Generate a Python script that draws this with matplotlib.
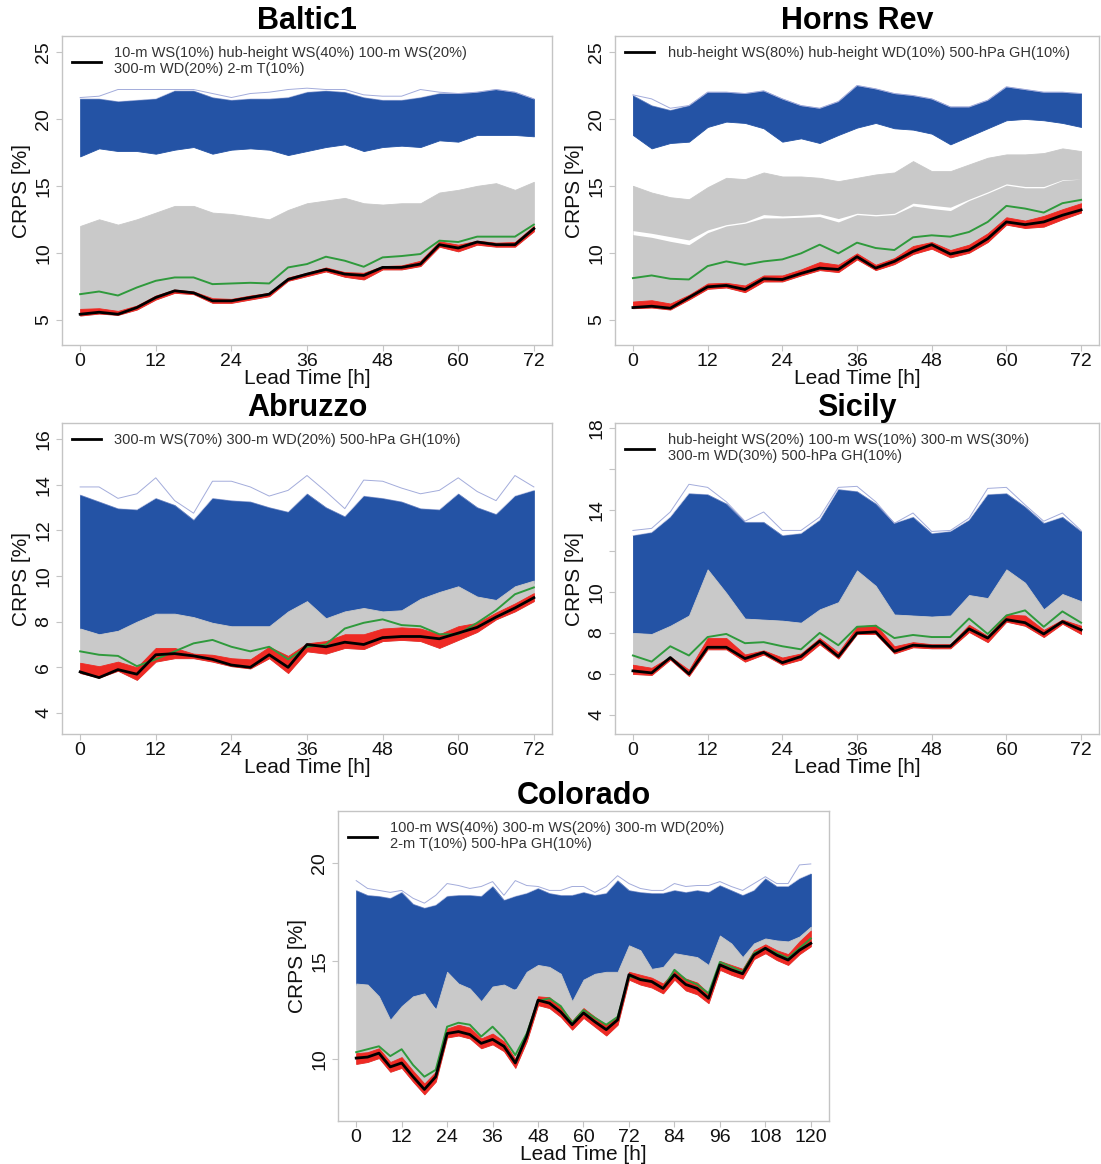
import matplotlib
matplotlib.use('Agg')
import matplotlib.pyplot as plt

plt.rcParams['font.family'] = ['Liberation Sans', 'DejaVu Sans']

hours72 = list(range(0, 73, 3))
hours120 = list(range(0, 121, 3))

# ---- Baltic1 ----
baltic_blue_max = [21.6, 21.7, 22.2, 22.2, 22.2, 22.2, 22.2, 21.9, 21.6, 21.9, 22.0, 22.2, 22.3,
                   22.2, 22.2, 21.8, 21.7, 21.7, 22.2, 22.0, 21.9, 22.0, 22.2, 22.0, 21.5]
baltic_blue_hi = [21.5, 21.5, 21.3, 21.4, 21.5, 22.1, 22.1, 21.6, 21.4, 21.5, 21.5, 21.6, 22.0,
                  22.1, 22.0, 21.6, 21.4, 21.4, 21.6, 21.9, 21.9, 22.0, 22.2, 22.0, 21.5]
baltic_blue_lo = [17.2, 17.8, 17.6, 17.6, 17.4, 17.7, 17.9, 17.4, 17.7, 17.8, 17.7, 17.3, 17.6,
                  17.9, 18.1, 17.6, 17.9, 18.0, 17.9, 18.4, 18.3, 18.8, 18.8, 18.8, 18.7]
baltic_gray_hi = [12.0, 12.5, 12.1, 12.5, 13.0, 13.5, 13.5, 13.0, 12.9, 12.7, 12.5, 13.2, 13.7,
                  13.9, 14.1, 13.7, 13.6, 13.7, 13.7, 14.5, 14.7, 15.0, 15.2, 14.7, 15.3]
baltic_red_hi = [5.8, 5.85, 5.65, 6.05, 6.8, 7.25, 7.1, 6.6, 6.55, 6.8, 7.0, 8.15, 8.5,
                 8.9, 8.55, 8.5, 9.0, 9.05, 9.4, 10.85, 10.6, 10.9, 10.75, 10.8, 12.0]
baltic_red_lo = [5.3, 5.45, 5.35, 5.75, 6.5, 7.0, 6.9, 6.25, 6.25, 6.5, 6.75, 7.9, 8.25,
                 8.6, 8.2, 8.0, 8.75, 8.75, 9.0, 10.45, 10.1, 10.6, 10.45, 10.45, 11.6]
baltic_green = [6.9, 7.1, 6.8, 7.4, 7.9, 8.15, 8.15, 7.65, 7.7, 7.75, 7.7, 8.9, 9.15,
                9.7, 9.4, 8.95, 9.65, 9.75, 9.9, 10.9, 10.8, 11.2, 11.2, 11.2, 12.1]
baltic_black = [5.4, 5.55, 5.4, 5.9, 6.65, 7.15, 7.0, 6.4, 6.4, 6.65, 6.9, 8.0, 8.4,
                8.75, 8.4, 8.3, 8.9, 8.9, 9.15, 10.6, 10.35, 10.8, 10.6, 10.6, 11.8]
baltic_label = "10-m WS(10%) hub-height WS(40%) 100-m WS(20%)\n300-m WD(20%) 2-m T(10%)"

# ---- Horns Rev ----
horns_blue_max = [21.8, 21.5, 20.8, 21.0, 22.0, 22.0, 21.9, 22.1, 21.5, 21.0, 20.8, 21.3, 22.5,
                  22.25, 21.9, 21.75, 21.5, 20.9, 20.9, 21.4, 22.4, 22.2, 22.0, 22.0, 21.9]
horns_blue_hi = [21.75, 21.0, 20.65, 21.0, 22.0, 22.0, 21.9, 22.1, 21.5, 21.0, 20.8, 21.3, 22.5,
                 22.25, 21.9, 21.75, 21.5, 20.9, 20.9, 21.4, 22.4, 22.2, 22.0, 22.0, 21.9]
horns_blue_lo = [18.8, 17.8, 18.2, 18.3, 19.4, 19.8, 19.7, 19.3, 18.3, 18.55, 18.2, 18.8, 19.35,
                 19.7, 19.3, 19.2, 18.9, 18.1, 18.7, 19.3, 19.9, 20.0, 19.9, 19.7, 19.4]
horns_gray_hi = [15.0, 14.5, 14.15, 14.0, 14.9, 15.6, 15.5, 16.0, 15.7, 15.7, 15.6, 15.35, 15.6,
                 15.85, 16.0, 16.85, 16.1, 16.1, 16.6, 17.1, 17.35, 17.35, 17.45, 17.8, 17.6]
horns_gap_hi = [11.65, 11.45, 11.2, 10.95, 11.7, 12.1, 12.3, 12.85, 12.75, 12.8, 12.9, 12.55, 12.95,
                12.85, 12.95, 13.7, 13.55, 13.4, 14.0, 14.55, 15.15, 14.95, 14.95, 15.45, 15.5]
horns_gap_lo = [11.35, 11.15, 10.85, 10.6, 11.5, 12.0, 12.2, 12.6, 12.6, 12.65, 12.7, 12.3, 12.85,
                12.75, 12.85, 13.5, 13.3, 13.15, 13.9, 14.45, 15.05, 14.85, 14.85, 15.4, 15.5]
horns_red_hi = [6.35, 6.45, 6.2, 6.85, 7.7, 7.75, 7.55, 8.3, 8.3, 8.75, 9.3, 9.1, 9.95,
                9.1, 9.6, 10.5, 10.8, 10.2, 10.6, 11.45, 12.65, 12.4, 12.75, 13.25, 13.7]
horns_red_lo = [5.85, 5.9, 5.75, 6.5, 7.3, 7.4, 7.05, 7.85, 7.85, 8.3, 8.7, 8.55, 9.5,
                8.7, 9.15, 9.9, 10.3, 9.65, 10.0, 10.8, 12.1, 11.85, 11.95, 12.5, 13.0]
horns_green = [8.1, 8.3, 8.05, 8.0, 9.0, 9.35, 9.1, 9.35, 9.5, 9.95, 10.6, 9.95, 10.75,
               10.35, 10.2, 11.15, 11.3, 11.2, 11.55, 12.3, 13.5, 13.3, 13.0, 13.7, 13.95]
horns_black = [5.9, 6.0, 5.85, 6.65, 7.45, 7.55, 7.25, 8.05, 8.0, 8.45, 8.85, 8.75, 9.7,
               8.85, 9.35, 10.1, 10.6, 9.9, 10.2, 11.05, 12.3, 12.1, 12.3, 12.8, 13.2]
horns_label = "hub-height WS(80%) hub-height WD(10%) 500-hPa GH(10%)"

# ---- Abruzzo ----
abruzzo_blue_max = [13.9, 13.9, 13.4, 13.6, 14.3, 13.3, 12.75, 14.15, 14.15, 13.9, 13.5, 13.75, 14.4,
                    13.7, 12.95, 14.2, 14.15, 13.85, 13.6, 13.75, 14.3, 13.7, 13.3, 14.4, 13.9]
abruzzo_blue_hi = [13.55, 13.25, 12.95, 12.9, 13.4, 13.1, 12.45, 13.4, 13.3, 13.25, 13.0, 12.8, 13.6,
                   13.0, 12.6, 13.5, 13.4, 13.25, 12.95, 12.9, 13.6, 13.0, 12.7, 13.5, 13.75]
abruzzo_blue_lo = [7.7, 7.45, 7.6, 7.6, 7.8, 7.8, 7.8, 7.8, 7.8, 7.8, 7.8, 8.0, 8.3,
                   8.0, 8.0, 8.0, 8.0, 8.2, 8.5, 8.6, 8.6, 8.6, 8.6, 9.2, 9.7]
abruzzo_gray_hi = [7.7, 7.45, 7.6, 8.0, 8.35, 8.35, 8.2, 7.95, 7.8, 7.8, 7.8, 8.45, 8.9,
                   8.15, 8.45, 8.6, 8.45, 8.5, 9.0, 9.3, 9.55, 9.1, 8.95, 9.55, 9.8]
abruzzo_red_hi = [6.2, 6.05, 6.25, 6.0, 6.85, 6.85, 6.6, 6.55, 6.4, 6.35, 6.9, 6.5, 7.05,
                  7.15, 7.45, 7.45, 7.7, 7.75, 7.7, 7.45, 7.8, 7.95, 8.4, 8.8, 9.25]
abruzzo_red_lo = [5.75, 5.55, 5.85, 5.45, 6.25, 6.4, 6.4, 6.25, 6.05, 5.95, 6.4, 5.75, 6.7,
                  6.6, 6.85, 6.8, 7.15, 7.2, 7.15, 6.85, 7.2, 7.55, 8.1, 8.45, 8.9]
abruzzo_green = [6.7, 6.55, 6.5, 6.05, 6.35, 6.7, 7.05, 7.2, 6.9, 6.7, 6.9, 6.35, 6.9,
                 7.0, 7.7, 7.95, 8.1, 7.85, 7.8, 7.45, 7.45, 7.95, 8.5, 9.2, 9.5]
abruzzo_black = [5.8, 5.55, 5.9, 5.7, 6.55, 6.6, 6.5, 6.35, 6.1, 6.0, 6.55, 6.0, 7.0,
                 6.9, 7.1, 7.0, 7.3, 7.35, 7.35, 7.25, 7.5, 7.75, 8.2, 8.6, 9.05]
abruzzo_label = "300-m WS(70%) 300-m WD(20%) 500-hPa GH(10%)"

# ---- Sicily ----
sicily_blue_max = [13.0, 13.1, 13.9, 15.25, 15.1, 14.4, 13.45, 13.9, 13.0, 13.0, 13.65, 15.1, 15.15,
                   14.4, 13.35, 13.85, 12.95, 13.0, 13.6, 15.05, 15.1, 14.25, 13.45, 13.85, 13.0]
sicily_blue_hi = [12.75, 12.9, 13.65, 14.8, 14.75, 14.3, 13.4, 13.4, 12.75, 12.85, 13.5, 15.0, 14.9,
                  14.3, 13.35, 13.65, 12.85, 12.95, 13.5, 14.75, 14.8, 14.15, 13.35, 13.65, 12.95]
sicily_blue_lo = [8.0, 7.95, 8.25, 8.5, 8.6, 8.65, 8.7, 8.65, 8.6, 8.5, 9.1, 9.4, 9.2,
                  9.0, 8.9, 8.85, 8.8, 8.85, 9.8, 9.7, 9.6, 9.4, 9.15, 9.85, 9.5]
sicily_gray_hi = [8.0, 7.95, 8.35, 8.85, 11.1, 9.95, 8.7, 8.65, 8.6, 8.5, 9.15, 9.5, 11.05,
                  10.3, 8.9, 8.85, 8.8, 8.85, 9.85, 9.7, 11.1, 10.45, 9.15, 9.9, 9.55]
sicily_red_hi = [6.45, 6.3, 6.85, 6.2, 7.75, 7.75, 6.95, 7.15, 6.8, 7.0, 7.75, 7.05, 8.3,
                 8.4, 7.35, 7.55, 7.45, 7.45, 8.4, 7.85, 8.9, 8.85, 8.15, 8.65, 8.35]
sicily_red_lo = [6.0, 5.95, 6.7, 5.9, 7.2, 7.2, 6.6, 6.95, 6.45, 6.7, 7.45, 6.75, 7.95,
                 7.95, 7.0, 7.3, 7.25, 7.25, 8.05, 7.55, 8.55, 8.35, 7.8, 8.45, 7.95]
sicily_green = [6.9, 6.6, 7.35, 6.9, 7.8, 7.95, 7.5, 7.55, 7.35, 7.2, 8.0, 7.4, 8.3,
                8.35, 7.75, 7.9, 7.8, 7.8, 8.7, 7.95, 8.85, 9.1, 8.3, 9.05, 8.5]
sicily_black = [6.15, 6.05, 6.8, 6.0, 7.3, 7.3, 6.75, 7.05, 6.55, 6.85, 7.6, 6.85, 8.0,
                8.05, 7.1, 7.4, 7.35, 7.35, 8.2, 7.75, 8.65, 8.5, 7.95, 8.55, 8.15]
sicily_label = "hub-height WS(20%) 100-m WS(10%) 300-m WS(30%)\n300-m WD(30%) 500-hPa GH(10%)"

# ---- Colorado ----
colorado_blue_max = [19.1, 18.7, 18.6, 18.5, 18.6, 18.2, 17.95, 18.35, 18.95, 18.85, 18.7, 18.8, 19.05, 18.35,
                     19.1, 18.85, 18.8, 18.6, 18.6, 18.8, 18.8, 18.5, 18.8, 19.35, 18.95, 18.7, 18.6, 18.6,
                     18.95, 18.8, 18.85, 18.85, 19.05, 18.8, 18.6, 18.95, 19.3, 18.95, 18.95, 19.9, 19.95]
colorado_blue_hi = [18.6, 18.35, 18.3, 18.2, 18.5, 17.9, 17.7, 17.85, 18.3, 18.35, 18.35, 18.3, 18.8, 18.1,
                    18.3, 18.45, 18.7, 18.45, 18.35, 18.35, 18.5, 18.35, 18.45, 19.1, 18.6, 18.5, 18.45, 18.45,
                    18.6, 18.5, 18.6, 18.5, 18.85, 18.6, 18.35, 18.6, 19.2, 18.8, 18.8, 19.2, 19.45]
colorado_blue_lo = [13.8, 13.5, 12.9, 12.0, 12.4, 12.9, 13.2, 12.6, 13.5, 13.5, 13.3, 12.9, 13.3, 13.5,
                    13.6, 13.9, 14.0, 14.0, 13.5, 12.9, 13.4, 13.8, 14.2, 14.3, 15.0, 15.2, 14.5, 14.5,
                    14.8, 15.0, 15.0, 14.7, 15.8, 15.5, 15.0, 15.2, 15.4, 15.6, 15.7, 16.0, 16.5]
colorado_gray_hi = [13.85, 13.8, 13.2, 12.0, 12.7, 13.2, 13.35, 12.5, 14.45, 13.85, 13.6, 12.95, 13.7, 13.8,
                    13.5, 14.45, 14.8, 14.7, 14.35, 12.95, 14.05, 14.35, 14.45, 14.45, 15.8, 15.55, 14.6, 14.7,
                    15.4, 15.3, 15.2, 14.8, 16.3, 15.9, 15.2, 15.9, 16.15, 16.05, 16.0, 16.25, 16.75]
colorado_red_hi = [10.3, 10.35, 10.55, 9.85, 10.1, 9.4, 8.75, 9.35, 11.55, 11.75, 11.6, 11.05, 11.3, 10.9,
                   10.0, 11.4, 13.2, 13.15, 12.65, 11.95, 12.6, 12.15, 11.75, 12.2, 14.45, 14.3, 14.15, 13.85,
                   14.5, 14.1, 13.9, 13.35, 15.0, 14.8, 14.6, 15.55, 15.85, 15.55, 15.35, 16.0, 16.55]
colorado_red_lo = [9.75, 9.85, 10.05, 9.35, 9.55, 8.85, 8.2, 8.85, 11.1, 11.2, 11.05, 10.55, 10.75, 10.4,
                   9.55, 10.9, 12.75, 12.6, 12.15, 11.5, 12.1, 11.65, 11.2, 11.75, 14.05, 13.8, 13.65, 13.35,
                   14.05, 13.5, 13.3, 12.85, 14.55, 14.3, 14.1, 15.1, 15.4, 15.05, 14.8, 15.35, 15.75]
colorado_green = [10.35, 10.5, 10.65, 10.15, 10.5, 9.7, 9.1, 9.45, 11.65, 11.85, 11.75, 11.15, 11.65, 11.05,
                  10.2, 11.3, 12.95, 13.1, 12.7, 11.85, 12.5, 12.1, 11.75, 12.15, 14.2, 14.1, 13.95, 13.6,
                  14.55, 14.05, 13.8, 13.35, 14.95, 14.7, 14.45, 15.4, 15.65, 15.4, 15.15, 15.65, 16.15]
colorado_black = [10.05, 10.1, 10.3, 9.6, 9.8, 9.1, 8.45, 9.1, 11.3, 11.4, 11.25, 10.8, 11.0, 10.65,
                  9.8, 11.15, 13.0, 12.85, 12.4, 11.75, 12.35, 11.9, 11.5, 12.0, 14.3, 14.05, 13.95, 13.6,
                  14.3, 13.8, 13.6, 13.1, 14.8, 14.55, 14.35, 15.3, 15.65, 15.3, 15.05, 15.55, 15.9]
colorado_label = "100-m WS(40%) 300-m WS(20%) 300-m WD(20%)\n2-m T(10%) 500-hPa GH(10%)"

BLUE = '#2453a5'
BLUE_LINE = '#a3acdb'
GRAY = '#c9c9c9'
RED = '#ee2a24'
GREEN = '#2f9a3c'
FRAME = '#c4c4c4'

W, H = 1101, 1164
fig = plt.figure(figsize=(W / 100, H / 100), dpi=100)


def make_axes(x0, y0, x1, y1):
    return fig.add_axes([x0 / W, 1 - y1 / H, (x1 - x0) / W, (y1 - y0) / H])


def draw_panel(ax, title, hours, blue_max, blue_hi, blue_lo, gray_hi, red_hi, red_lo,
               green, black, label, ylim, yticks, ylabels, xticks, gap=None):
    ax.fill_between(hours, blue_lo, blue_hi, color=BLUE, lw=0.6, ec=BLUE)
    ax.plot(hours, blue_max, color=BLUE_LINE, lw=0.7)
    ax.plot(hours, blue_hi, color=BLUE_LINE, lw=0.5, alpha=0.6)
    ax.fill_between(hours, red_lo, gray_hi, color=GRAY, lw=0.6, ec=GRAY)
    if gap is not None:
        ax.fill_between(hours, gap[0], gap[1], color='white', lw=0)
    ax.fill_between(hours, red_lo, red_hi, color=RED, lw=0.6, ec=RED)
    ax.plot(hours, green, color=GREEN, lw=1.4)
    ax.plot(hours, black, color='black', lw=2.0, label=label)

    n = hours[-1]
    ax.set_xlim(-0.04 * n, 1.04 * n)
    ax.set_ylim(*ylim)
    ax.set_xticks(xticks)
    ax.set_yticks(yticks)
    ax.set_yticklabels(ylabels, rotation=90, va='center')
    for s in ax.spines.values():
        s.set_color(FRAME)
        s.set_linewidth(1.0)
    ax.tick_params(color=FRAME, length=4, labelsize=14, labelcolor='#111111')
    ax.tick_params(axis='x', pad=2)
    ax.tick_params(axis='y', pad=3)
    ax.set_title(title, fontsize=22, fontweight='bold', pad=4)
    ax.set_xlabel('Lead Time [h]', fontsize=15, labelpad=-1, color='#111111')
    ax.set_ylabel('CRPS [%]', fontsize=15, labelpad=3, color='#111111')
    leg = ax.legend(loc='upper left', frameon=False, fontsize=10.5, handlelength=2.0,
                    handletextpad=0.9, borderaxespad=0.3, labelcolor='#333333')
    return leg


xt72 = list(range(0, 73, 12))
xt120 = list(range(0, 121, 12))

ax = make_axes(62, 36, 552, 345)
draw_panel(ax, 'Baltic1', hours72, baltic_blue_max, baltic_blue_hi, baltic_blue_lo,
           baltic_gray_hi, baltic_red_hi, baltic_red_lo, baltic_green, baltic_black,
           baltic_label, (3.1, 26.2), [5, 10, 15, 20, 25], ['5', '10', '15', '20', '25'], xt72)

ax = make_axes(615, 36, 1099, 345)
draw_panel(ax, 'Horns Rev', hours72, horns_blue_max, horns_blue_hi, horns_blue_lo,
           horns_gray_hi, horns_red_hi, horns_red_lo, horns_green, horns_black,
           horns_label, (3.1, 26.2), [5, 10, 15, 20, 25], ['5', '10', '15', '20', '25'], xt72,
           gap=(horns_gap_lo, horns_gap_hi))

ax = make_axes(62, 423, 552, 734)
draw_panel(ax, 'Abruzzo', hours72, abruzzo_blue_max, abruzzo_blue_hi, abruzzo_blue_lo,
           abruzzo_gray_hi, abruzzo_red_hi, abruzzo_red_lo, abruzzo_green, abruzzo_black,
           abruzzo_label, (3.08, 16.7), [4, 6, 8, 10, 12, 14, 16],
           ['4', '6', '8', '10', '12', '14', '16'], xt72)

ax = make_axes(615, 423, 1099, 734)
draw_panel(ax, 'Sicily', hours72, sicily_blue_max, sicily_blue_hi, sicily_blue_lo,
           sicily_gray_hi, sicily_red_hi, sicily_red_lo, sicily_green, sicily_black,
           sicily_label, (3.07, 18.24), [4, 6, 8, 10, 12, 14, 16, 18],
           ['4', '6', '8', '10', '', '14', '', '18'], xt72)

ax = make_axes(338, 811, 829, 1121)
draw_panel(ax, 'Colorado', hours120, colorado_blue_max, colorado_blue_hi, colorado_blue_lo,
           colorado_gray_hi, colorado_red_hi, colorado_red_lo, colorado_green, colorado_black,
           colorado_label, (6.84, 22.65), [10, 15, 20], ['10', '15', '20'], xt120)

fig.savefig('out.png', dpi=100)
